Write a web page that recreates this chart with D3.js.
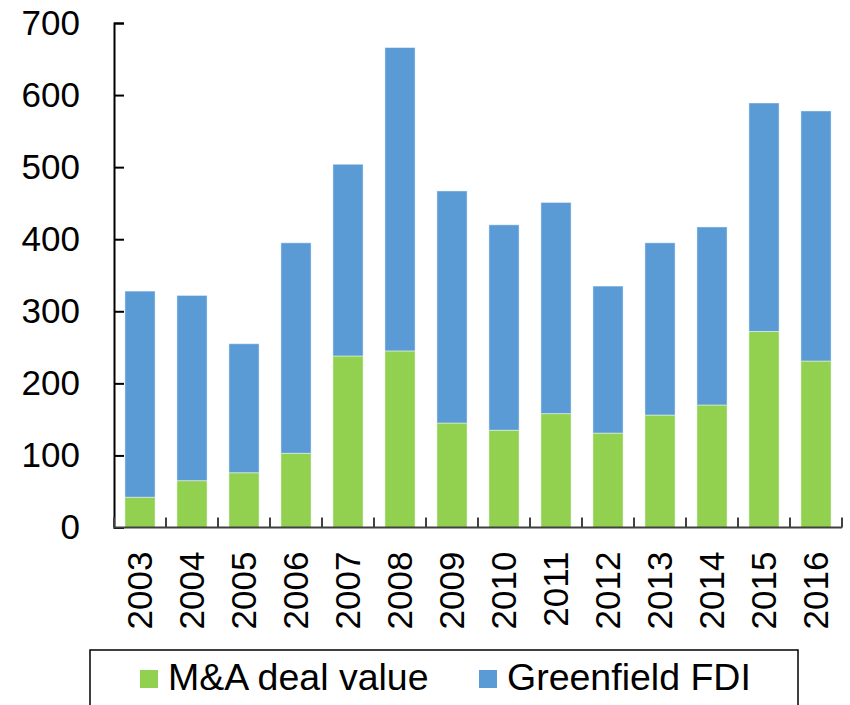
<!DOCTYPE html>
<html>
<head>
<meta charset="utf-8">
<script src="https://cdn.jsdelivr.net/npm/d3@7"></script>
<style>
  body { margin: 0; background: #fff; }
  svg { font-family: "Liberation Sans", Arial, sans-serif; }
</style>
</head>
<body>
<svg id="chart" width="850" height="705"></svg>
<script>
const years = ["2003", "2004", "2005", "2006", "2007", "2008", "2009", "2010", "2011", "2012", "2013", "2014", "2015", "2016"];
const maDeal = [42, 65, 76, 103, 238, 245, 145, 135, 158, 131, 156, 170, 272, 231];
const greenfield = [286, 257, 179, 292, 266, 421, 322, 285, 293, 204, 239, 247, 317, 347];
const yTicks = [0, 100, 200, 300, 400, 500, 600, 700];
const seriesNames = ["M&A deal value", "Greenfield FDI"];
const colors = ["#92D050", "#5B9BD5"];

const svg = d3.select("#chart");
const margin = { t: 23, l: 114 };
const innerWidth = 728;
const innerHeight = 504.5;

const data = years.map((y, i) => ({ year: y, ma: maDeal[i], gf: greenfield[i] }));
const stack = d3.stack().keys(["ma", "gf"])(data);

const x = d3.scaleBand().domain(years).range([0, innerWidth]).paddingInner(0.42).paddingOuter(0.21);
const y = d3.scaleLinear().domain([0, 700]).range([innerHeight, 0]);

const g = svg.append("g").attr("transform", `translate(${margin.l}, ${margin.t})`);

// bars
g.selectAll(".series")
  .data(stack)
  .join("g")
  .attr("fill", (d, i) => colors[i])
  .selectAll("rect")
  .data((d) => d)
  .join("rect")
  .attr("x", (d) => x(d.data.year))
  .attr("width", x.bandwidth())
  .attr("y", (d) => y(d[1]))
  .attr("height", (d) => y(d[0]) - y(d[1]))
  .attr("stroke", "rgba(255,255,255,0.45)")
  .attr("stroke-width", 1);

// y axis
const yAxis = g.append("g")
  .call(d3.axisLeft(y).tickValues(yTicks).tickSize(-10).tickPadding(34));
yAxis.select(".domain").attr("stroke", "#000").attr("stroke-width", 2);
yAxis.selectAll(".tick line").attr("stroke", "#000").attr("stroke-width", 2);
yAxis.selectAll("text").attr("font-size", 35).attr("fill", "#000")
  .attr("font-family", "Liberation Sans, Arial, sans-serif");

// x axis, ticks sit on the category boundaries
const xg = g.append("g").attr("transform", `translate(0, ${innerHeight})`);
xg.append("line")
  .attr("x1", 0).attr("x2", innerWidth)
  .attr("stroke", "#404040").attr("stroke-width", 2);
const bounds = d3.range(years.length + 1).map((i) => i * innerWidth / years.length);
xg.selectAll(".xt")
  .data(bounds)
  .join("line")
  .attr("class", "xt")
  .attr("x1", (d) => d).attr("x2", (d) => d)
  .attr("y1", 0).attr("y2", -10)
  .attr("stroke", "#404040").attr("stroke-width", 2);
xg.selectAll(".xl")
  .data(years)
  .join("text")
  .attr("class", "xl")
  .attr("transform", (d) => `translate(${x(d) + x.bandwidth() / 2 + 12}, 24) rotate(-90)`)
  .attr("text-anchor", "end")
  .attr("font-size", 35)
  .attr("fill", "#000")
  .text((d) => d);

// legend
const legend = svg.append("g");
legend.append("rect")
  .attr("x", 90).attr("y", 650)
  .attr("width", 708).attr("height", 80)
  .attr("fill", "none").attr("stroke", "#000").attr("stroke-width", 1.5);
const legendX = [140, 479];
seriesNames.forEach((name, i) => {
  legend.append("rect")
    .attr("x", legendX[i]).attr("y", 670)
    .attr("width", 18).attr("height", 18)
    .attr("fill", colors[i]);
  legend.append("text")
    .attr("x", legendX[i] + 28).attr("y", 690)
    .attr("font-size", 37.5)
    .attr("fill", "#000")
    .text(name);
});
</script>
</body>
</html>
